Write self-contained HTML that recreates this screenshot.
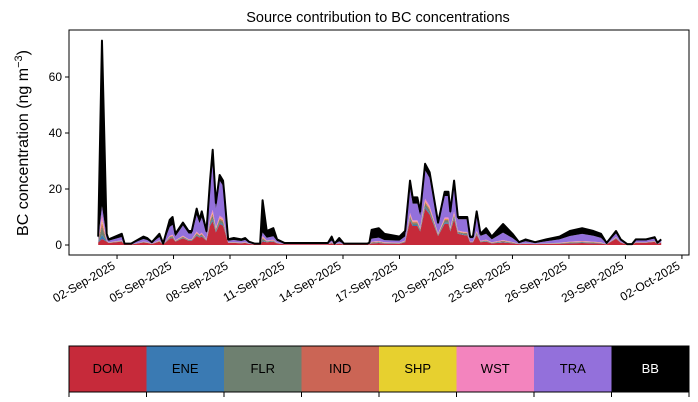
<!DOCTYPE html>
<html><head><meta charset="utf-8"><style>
body{margin:0;background:#fff}
svg{display:block;font-family:"Liberation Sans","DejaVu Sans",sans-serif}
</style></head><body>
<svg id="c" width="698" height="402" viewBox="0 0 698 402">
<text x="378" y="22" text-anchor="middle" font-size="14.5">Source contribution to BC concentrations</text>
<text transform="translate(28,143) rotate(-90)" text-anchor="middle" font-size="16">BC concentration (ng m<tspan dy="-6" font-size="11">−3</tspan><tspan dy="6">)</tspan></text>
<g id="marks"></g>
<rect x="69" y="30" width="620" height="225" fill="none" stroke="#000" stroke-width="1"/>
<g id="axes"></g>
<g id="legend"></g>
</svg>
<script>
// data: time in days since 01-Sep-2025 00:00, totals in ng m-3
const days  = [0,0.2,0.45,0.55,1.25,1.4,1.75,2.4,2.6,2.85,3.25,3.45,3.8,3.95,4.1,4.5,4.8,4.97,5.23,5.38,5.5,5.75,5.94,6.08,6.25,6.45,6.63,6.7,6.9,7.2,7.6,7.8,8.0,8.3,8.6,8.73,8.95,9.3,9.5,9.9,12.2,12.4,12.55,12.8,13.05,14.3,14.4,14.52,14.9,15.2,16.0,16.3,16.56,16.7,16.95,17.1,17.36,17.6,18.05,18.4,18.6,18.7,18.9,19.1,19.45,19.6,19.75,19.9,20.1,20.3,20.6,20.9,21.5,22.0,22.35,22.7,23.2,23.8,24.5,25.05,25.7,26.3,26.7,27.0,27.5,27.75,28.1,28.35,28.55,29.1,29.55,29.7,29.9];
const total = [3,73,4,2,4,0.5,0.5,3,2.5,1,4,0.5,9,10,4,8,5,5,13,9,12,5,23,34,15,25,23,18,2,2.5,2,2.5,1.2,0.5,0.5,16,5,6,2,0.7,0.7,3,0.5,2.5,0.5,0.5,0.8,5.4,6,4,3,5,23,17,17,12,29,26,8,19,19,12,23,10,10,10,3,3,12,4,6,3,7.5,4,1,2,1,2,3,5,6,5,4,0.7,5,2,0.3,0.3,2,2,2.8,0.8,2];
const domShare = [0.3,0.03,0.3,0.35,0.3,0.35,0.35,0.3,0.3,0.35,0.3,0.35,0.25,0.25,0.3,0.3,0.3,0.3,0.25,0.3,0.25,0.3,0.3,0.25,0.3,0.3,0.3,0.3,0.35,0.3,0.3,0.3,0.35,0.35,0.35,0.08,0.2,0.2,0.3,0.35,0.35,0.2,0.35,0.2,0.35,0.35,0.3,0.1,0.12,0.12,0.15,0.2,0.38,0.4,0.4,0.4,0.45,0.42,0.4,0.4,0.4,0.4,0.4,0.4,0.35,0.35,0.3,0.3,0.3,0.25,0.2,0.2,0.12,0.15,0.3,0.2,0.3,0.2,0.15,0.12,0.12,0.12,0.12,0.3,0.45,0.4,0.3,0.3,0.4,0.4,0.4,0.4,0.4];
const traShare = [0.3,0.04,0.3,0.3,0.3,0.3,0.3,0.3,0.3,0.3,0.3,0.3,0.35,0.35,0.35,0.45,0.4,0.4,0.45,0.45,0.45,0.4,0.5,0.48,0.45,0.5,0.5,0.5,0.3,0.3,0.3,0.3,0.3,0.3,0.3,0.08,0.2,0.2,0.3,0.3,0.3,0.2,0.3,0.2,0.3,0.3,0.3,0.2,0.2,0.2,0.25,0.3,0.38,0.35,0.35,0.35,0.35,0.38,0.4,0.4,0.4,0.4,0.42,0.4,0.45,0.45,0.4,0.4,0.45,0.45,0.35,0.35,0.35,0.35,0.3,0.35,0.3,0.35,0.4,0.4,0.42,0.42,0.4,0.3,0.25,0.3,0.3,0.3,0.3,0.3,0.3,0.3,0.3];
const eneShare = 0.02, flrShare = 0.04, indShare = 0.02, shpShare = 0.01, wstShare = 0.03;
const sources = ["DOM","ENE","FLR","IND","SHP","WST","TRA","BB"];
const colors = ["#c62a3a","#3a7ab3","#6e8070","#cb6555","#e7d02f","#f384be","#9370db","#000000"];
const tickDays = [1,4,7,10,13,16,19,22,25,28,31];
const tickLabels = ["02-Sep-2025","05-Sep-2025","08-Sep-2025","11-Sep-2025","14-Sep-2025","17-Sep-2025","20-Sep-2025","23-Sep-2025","26-Sep-2025","29-Sep-2025","02-Oct-2025"];
const yTicks = [0,20,40,60];

const NS="http://www.w3.org/2000/svg";
const X = d => 98.2 + d*18.83;
const Y = v => 245 - v*2.8;
function mk(tag, attrs, parent){const e=document.createElementNS(NS,tag);for(const k in attrs)e.setAttribute(k,attrs[k]);parent.appendChild(e);return e;}

const layers = days.map((d,i)=>{
  const t=total[i];
  const v=[t*domShare[i], t*eneShare, t*flrShare, t*indShare, t*shpShare, t*wstShare, t*traShare[i]];
  const s=v.reduce((a,b)=>a+b,0);
  v.push(Math.max(0,t-s));
  return v;
});
const marks=document.getElementById('marks');
let base=days.map(()=>0);
for(let k=0;k<sources.length;k++){
  const top=base.map((b,i)=>b+layers[i][k]);
  let pts=days.map((d,i)=>X(d).toFixed(2)+","+Y(top[i]).toFixed(2));
  for(let i=days.length-1;i>=0;i--)pts.push(X(days[i]).toFixed(2)+","+Y(base[i]).toFixed(2));
  const p=mk('polygon',{points:pts.join(" "),fill:colors[k]},marks);
  
  
  base=top;
}
const line=mk('polyline',{points:days.map((d,i)=>X(d).toFixed(2)+","+Y(total[i]).toFixed(2)).join(" "),fill:"none",stroke:"#000","stroke-width":2,"stroke-linejoin":"round"},marks);



const axes=document.getElementById('axes');
yTicks.forEach(v=>{
  const l=mk('line',{x1:65,x2:69,y1:Y(v),y2:Y(v),stroke:"#000"},axes);
  
  
  const t=mk('text',{x:62,y:Y(v)+4,"text-anchor":"end","font-size":12},axes);
  
  
  t.textContent=v;
});
tickDays.forEach((d,i)=>{
  const x=X(d);
  const l=mk('line',{x1:x,x2:x,y1:255,y2:259,stroke:"#000"},axes);
  
  
  const t=mk('text',{transform:`translate(${x-1},${268}) rotate(-30)`,"text-anchor":"end","font-size":12},axes);
  
  
  t.textContent=tickLabels[i];
});

const lg=document.getElementById('legend');
const w=620/sources.length;
sources.forEach((s,i)=>{
  const r=mk('rect',{x:69+i*w,y:346,width:w,height:46,fill:colors[i]},lg);
  
  
  const t=mk('text',{x:69+i*w+w/2,y:373,"text-anchor":"middle","font-size":13,fill:s==="BB"?"#fff":"#000"},lg);
  
  
  t.textContent=s;
});
for(let i=0;i<=sources.length;i++){
  const l=mk('line',{x1:69+i*w,x2:69+i*w,y1:392,y2:397,stroke:"#000"},lg);
  
  
}
const fr=mk('rect',{x:69,y:346,width:620,height:46,fill:"none",stroke:"#000"},lg);


</script>
</body></html>
